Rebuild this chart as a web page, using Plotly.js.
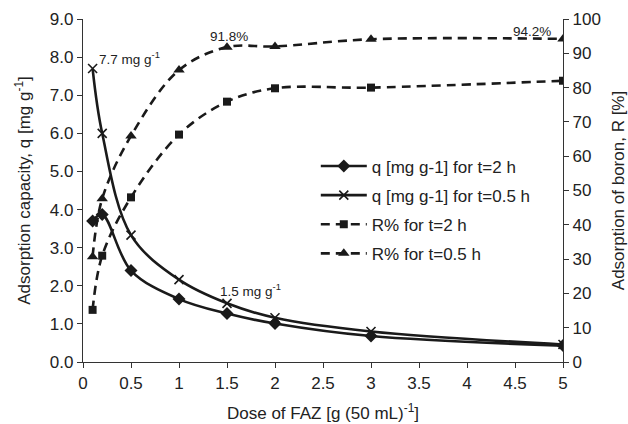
<!DOCTYPE html>
<html>
<head>
<meta charset="utf-8">
<script src="https://cdn.plot.ly/plotly-3.0.1.min.js"></script>
<style>html,body{margin:0;padding:0;background:#fff;}#chart{width:628px;height:424px;}</style>
</head>
<body>
<div id="chart"></div>
<script>
const dose = [0.1, 0.2, 0.5, 1, 1.5, 2, 3, 5];
const q2h = [3.70, 3.87, 2.40, 1.65, 1.27, 1.01, 0.68, 0.43];
const q05h = [7.7, 6.0, 3.33, 2.16, 1.54, 1.16, 0.80, 0.46];
const R2h = [15.2, 31.0, 48.0, 66.3, 75.9, 79.8, 80.0, 82.0];
const R05h = [30.7, 47.6, 65.9, 85.1, 91.8, 92.0, 94.1, 94.2];
const names = ['q [mg g-1] for t=2 h', 'q [mg g-1] for t=0.5 h', 'R% for t=2 h', 'R% for t=0.5 h'];
const xTicks = [0, 0.5, 1, 1.5, 2, 2.5, 3, 3.5, 4, 4.5, 5];
const xTickText = ['0', '0.5', '1', '1.5', '2', '2.5', '3', '3.5', '4', '4.5', '5'];

const C = '#1a1a1a';
const T = '#222';
const F = 'Liberation Sans, Arial, sans-serif';
function tr(y, name, axis, symbol, size, dash, g) {
  return {
    x: dose, y: y, name: name, yaxis: axis, type: 'scatter', mode: 'lines+markers',
    legendgroup: g,
    line: {color: C, width: 2.6, shape: 'spline', smoothing: 1, dash: dash},
    marker: {symbol: symbol, size: size, color: C, line: {color: C, width: symbol === 'x-thin' ? 1.6 : 0}}
  };
}
const data = [
  tr(q2h, names[0], 'y', 'diamond', 10, 'solid', 'a'),
  tr(q05h, names[1], 'y', 'x-thin', 9, 'solid', 'b'),
  tr(R2h, names[2], 'y2', 'square', 8, '9px,6px', 'c'),
  tr(R05h, names[3], 'y2', 'triangle-up', 10, '9px,6px', 'd')
];
const axCommon = {showgrid: false, zeroline: false, showline: true, linecolor: '#333', linewidth: 1.2,
                  ticks: 'outside', ticklen: 5, tickcolor: '#333', tickfont: {size: 17, color: T}};
const layout = {
  width: 628, height: 424,
  margin: {l: 83, r: 65, t: 19, b: 62},
  paper_bgcolor: '#fff', plot_bgcolor: '#fff',
  font: {family: F, size: 17, color: T},
  showlegend: true,
  legend: {x: 0.485, y: 0.6225, xanchor: 'left', yanchor: 'top', bgcolor: 'rgba(0,0,0,0)',
           traceorder: 'grouped', tracegroupgap: 4, font: {family: F, size: 17, color: T}, itemwidth: 46},
  xaxis: Object.assign({range: [0, 5], tickvals: xTicks, ticktext: xTickText,
          title: {text: 'Dose of FAZ [g (50 mL)<sup>-1</sup>]', font: {size: 17}, standoff: 15}}, axCommon),
  yaxis: Object.assign({range: [0, 9], dtick: 1, tickformat: '.1f',
          title: {text: 'Adsorption capacity, q [mg g<sup>-1</sup>]', font: {size: 17}, standoff: 14}}, axCommon),
  yaxis2: Object.assign({range: [0, 100], dtick: 10, overlaying: 'y', side: 'right',
           title: {text: 'Adsorption of boron, R [%]', font: {size: 17}, standoff: 14}}, axCommon),
  annotations: [
    {x: 0.146, y: 7.98, xref: 'x', yref: 'y', text: '7.7 mg g<sup>-1</sup>', showarrow: false, xanchor: 'left', font: {size: 13.5, color: T}},
    {x: 1.52, y: 8.53, xref: 'x', yref: 'y', text: '91.8%', showarrow: false, font: {size: 13.5, color: T}},
    {x: 4.68, y: 8.66, xref: 'x', yref: 'y', text: '94.2%', showarrow: false, font: {size: 13.5, color: T}},
    {x: 1.41, y: 1.89, xref: 'x', yref: 'y', text: '1.5 mg g<sup>-1</sup>', showarrow: false, xanchor: 'left', font: {size: 13.5, color: T}}
  ]
};
Plotly.newPlot('chart', data, layout, {displayModeBar: false, staticPlot: true});
</script>
</body>
</html>
